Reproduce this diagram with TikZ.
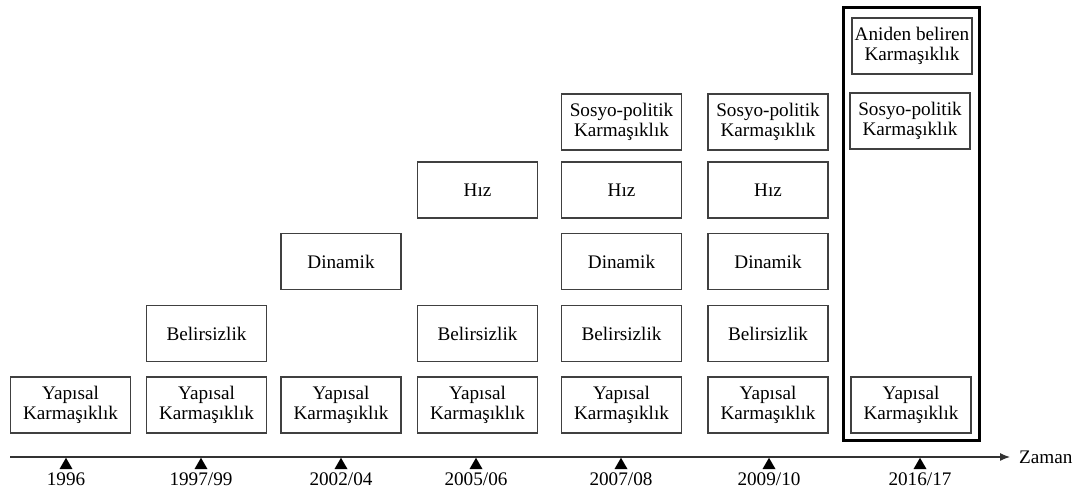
\documentclass[tikz,border=0pt]{standalone}
\usepackage{fontspec}
\setmainfont{Liberation Serif}
\usetikzlibrary{positioning}
\usetikzlibrary{shapes.geometric}
\usetikzlibrary{arrows.meta}

\tikzset{
  kbox/.style={draw=black!75, line width=0.6pt, minimum width=60pt, minimum height=28pt,
    align=center, inner sep=1pt, font=\fontsize{9.6}{10}\selectfont},
  yearmark/.style={regular polygon, regular polygon sides=3, fill=black, draw=none,
    inner sep=0pt, minimum size=7.5pt, anchor=corner 1},
  yearlabel/.style={font=\fontsize{9.6}{10}\selectfont},
}

\begin{document}
\begin{tikzpicture}[x=0.5pt, y=-0.5pt]
\useasboundingbox (0,0) rectangle (1075,490);

% 1996
\node[kbox] (ya1) at (70.5,405) {Yapısal\\Karmaşıklık};
% 1997/99
\node[kbox] (ya2) at (206.5,405) {Yapısal\\Karmaşıklık};
\node[kbox] (be2) at (206.5,333.5) {Belirsizlik};
% 2002/04
\node[kbox] (ya3) at (341,405) {Yapısal\\Karmaşıklık};
\node[kbox] (di3) at (341,261.5) {Dinamik};
% 2005/06
\node[kbox] (ya4) at (477.5,405) {Yapısal\\Karmaşıklık};
\node[kbox] (be4) at (477.5,333.5) {Belirsizlik};
\node[kbox] (hi4) at (477.5,190) {Hız};
% 2007/08
\node[kbox] (ya5) at (621.5,405) {Yapısal\\Karmaşıklık};
\node[kbox] (be5) at (621.5,333.5) {Belirsizlik};
\node[kbox] (di5) at (621.5,261.5) {Dinamik};
\node[kbox] (hi5) at (621.5,190) {Hız};
\node[kbox] (so5) at (621.5,122) {Sosyo-politik\\Karmaşıklık};
% 2009/10
\node[kbox] (ya6) at (768,405) {Yapısal\\Karmaşıklık};
\node[kbox] (be6) at (768,333.5) {Belirsizlik};
\node[kbox] (di6) at (768,261.5) {Dinamik};
\node[kbox] (hi6) at (768,190) {Hız};
\node[kbox] (so6) at (768,122) {Sosyo-politik\\Karmaşıklık};
% 2016/17
\node[kbox] (ya7) at (911,405) {Yapısal\\Karmaşıklık};
\node[kbox] (so7) at (910,121) {Sosyo-politik\\Karmaşıklık};
\node[kbox] (an7) at (912,46) {Aniden beliren\\Karmaşıklık};
\draw[line width=1.5pt] (843,8) rectangle (979,441);

% time axis
\coordinate (t0) at (10,457);
\coordinate (t1) at (1010,457);
\draw[line width=0.6pt, draw=black!80, -{Latex[length=5pt,width=4pt]}] (t0) -- (t1);
\node[yearlabel, right=1pt of t1] (zaman) {Zaman};

\node[yearmark] (m1) at (66,457) {};
\node[yearmark] (m2) at (201,457) {};
\node[yearmark] (m3) at (341,457) {};
\node[yearmark] (m4) at (476,457) {};
\node[yearmark] (m5) at (621,457) {};
\node[yearmark] (m6) at (769,457) {};
\node[yearmark] (m7) at (920,457) {};

\node[yearlabel] (yr1) at (66,479) {1996};
\node[yearlabel] (yr2) at (201,479) {1997/99};
\node[yearlabel] (yr3) at (341,479) {2002/04};
\node[yearlabel] (yr4) at (476,479) {2005/06};
\node[yearlabel] (yr5) at (621,479) {2007/08};
\node[yearlabel] (yr6) at (769,479) {2009/10};
\node[yearlabel] (yr7) at (920,479) {2016/17};
\end{tikzpicture}
\end{document}
